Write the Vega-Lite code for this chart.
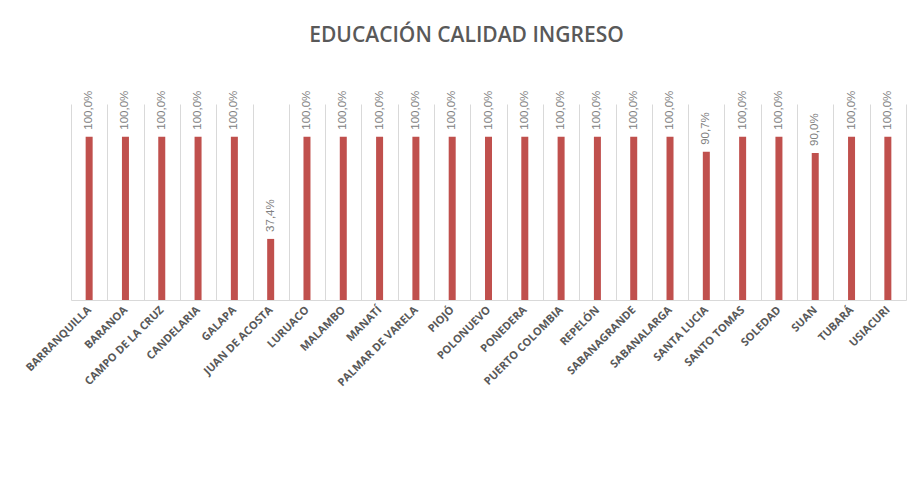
{
  "$schema": "https://vega.github.io/schema/vega-lite/v6.json",
  "autosize": "none",
  "width": 835,
  "height": 196,
  "padding": {"left": 71, "top": 104, "right": 6, "bottom": 197},
  "background": "white",
  "config": {
    "view": {"stroke": null},
    "locale": {"number": {"decimal": ",", "thousands": ".", "grouping": [3], "currency": ["$", ""]}}
  },
  "title": {
    "text": "EDUCACIÓN  CALIDAD  INGRESO",
    "font": "Open Sans",
    "fontSize": 21,
    "fontWeight": 600,
    "color": "#595959",
    "anchor": "middle",
    "offset": 45,
    "dx": -22
  },
  "data": {
    "values": [
      {"municipio": "BARRANQUILLA", "valor": 1.0},
      {"municipio": "BARANOA", "valor": 1.0},
      {"municipio": "CAMPO DE LA CRUZ", "valor": 1.0},
      {"municipio": "CANDELARIA", "valor": 1.0},
      {"municipio": "GALAPA", "valor": 1.0},
      {"municipio": "JUAN DE ACOSTA", "valor": 0.374},
      {"municipio": "LURUACO", "valor": 1.0},
      {"municipio": "MALAMBO", "valor": 1.0},
      {"municipio": "MANATÍ", "valor": 1.0},
      {"municipio": "PALMAR DE VARELA", "valor": 1.0},
      {"municipio": "PIOJÓ", "valor": 1.0},
      {"municipio": "POLONUEVO", "valor": 1.0},
      {"municipio": "PONEDERA", "valor": 1.0},
      {"municipio": "PUERTO COLOMBIA", "valor": 1.0},
      {"municipio": "REPELÓN", "valor": 1.0},
      {"municipio": "SABANAGRANDE", "valor": 1.0},
      {"municipio": "SABANALARGA", "valor": 1.0},
      {"municipio": "SANTA LUCIA", "valor": 0.907},
      {"municipio": "SANTO TOMAS", "valor": 1.0},
      {"municipio": "SOLEDAD", "valor": 1.0},
      {"municipio": "SUAN", "valor": 0.9},
      {"municipio": "TUBARÁ", "valor": 1.0},
      {"municipio": "USIACURI", "valor": 1.0}
    ]
  },
  "encoding": {
    "x": {
      "field": "municipio",
      "type": "nominal",
      "sort": null,
      "scale": {"paddingInner": 0, "paddingOuter": 0},
      "axis": {
        "title": null,
        "labelAngle": -45,
        "labelAlign": "right",
        "labelBaseline": "middle",
        "labelFont": "Open Sans",
        "labelFontWeight": "bold",
        "labelFontSize": 11,
        "labelColor": "#595959",
        "labelPadding": 8,
        "ticks": false,
        "grid": true,
        "tickBand": "extent",
        "gridColor": "#d9d9d9",
        "gridWidth": 1,
        "domainColor": "#d9d9d9",
        "domainWidth": 1
      }
    },
    "y": {
      "field": "valor",
      "type": "quantitative",
      "scale": {"domain": [0, 1.2]},
      "axis": null
    }
  },
  "layer": [
    {
      "mark": {"type": "bar", "color": "#C0504D", "size": 7}
    },
    {
      "mark": {
        "type": "text",
        "angle": 270,
        "align": "left",
        "baseline": "middle",
        "dx": 7,
        "font": "Liberation Sans",
        "fontSize": 11.5,
        "color": "#808080"
      },
      "encoding": {
        "text": {"field": "valor", "type": "quantitative", "format": ".1%"}
      }
    }
  ]
}
